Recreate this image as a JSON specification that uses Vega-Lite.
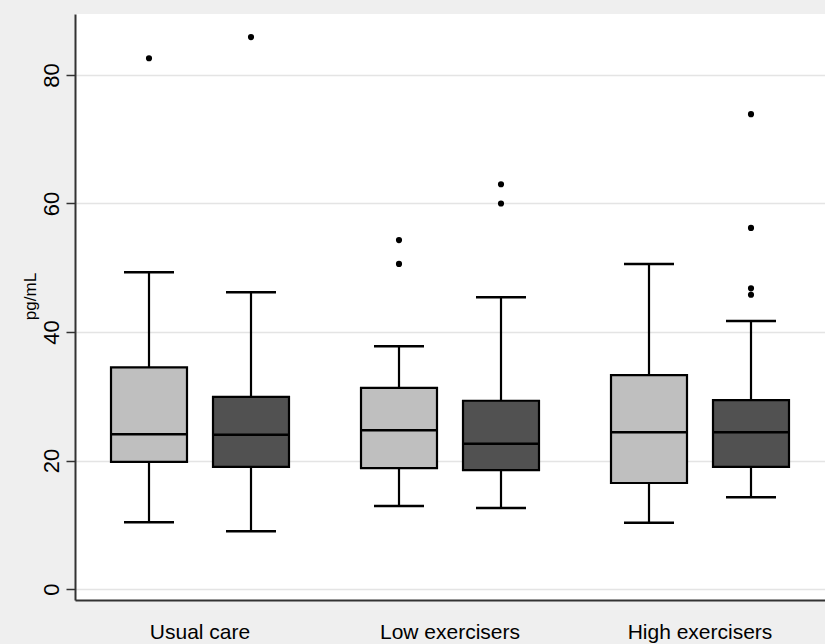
{
  "$schema": "https://vega.github.io/schema/vega-lite/v6.json",
  "width": 750,
  "height": 586,
  "autosize": {"type": "none"},
  "padding": {"left": 75, "top": 14, "right": 0, "bottom": 44},
  "background": "#efefef",
  "config": {
    "view": {"fill": "white", "stroke": null},
    "font": "Liberation Sans"
  },
  "datasets": {
    "boxes": [
      {"group": "Usual care", "time": "Baseline", "lower": 10.4, "q1": 19.8, "median": 24.1, "q3": 34.5, "upper": 49.3},
      {"group": "Usual care", "time": "Follow-up", "lower": 9.0, "q1": 19.0, "median": 24.0, "q3": 29.9, "upper": 46.2},
      {"group": "Low exercisers", "time": "Baseline", "lower": 12.9, "q1": 18.8, "median": 24.7, "q3": 31.3, "upper": 37.8},
      {"group": "Low exercisers", "time": "Follow-up", "lower": 12.6, "q1": 18.5, "median": 22.6, "q3": 29.3, "upper": 45.4},
      {"group": "High exercisers", "time": "Baseline", "lower": 10.3, "q1": 16.5, "median": 24.4, "q3": 33.3, "upper": 50.6},
      {"group": "High exercisers", "time": "Follow-up", "lower": 14.3, "q1": 19.0, "median": 24.4, "q3": 29.4, "upper": 41.7}
    ],
    "outliers": [
      {"group": "Usual care", "time": "Baseline", "value": 82.6},
      {"group": "Usual care", "time": "Follow-up", "value": 85.9},
      {"group": "Low exercisers", "time": "Baseline", "value": 54.3},
      {"group": "Low exercisers", "time": "Baseline", "value": 50.6},
      {"group": "Low exercisers", "time": "Follow-up", "value": 63.0},
      {"group": "Low exercisers", "time": "Follow-up", "value": 60.0},
      {"group": "High exercisers", "time": "Follow-up", "value": 73.9},
      {"group": "High exercisers", "time": "Follow-up", "value": 56.2},
      {"group": "High exercisers", "time": "Follow-up", "value": 46.8},
      {"group": "High exercisers", "time": "Follow-up", "value": 45.8}
    ]
  },
  "encoding": {
    "x": {
      "field": "group",
      "type": "nominal",
      "sort": ["Usual care", "Low exercisers", "High exercisers"],
      "scale": {"paddingInner": 0, "paddingOuter": 0},
      "axis": {
        "title": null,
        "labelAngle": 0,
        "labelFontSize": 21,
        "labelColor": "#000000",
        "labelBaseline": "alphabetic",
        "labelPadding": 38,
        "ticks": false,
        "domainColor": "#333333",
        "domainWidth": 2,
        "grid": false
      }
    },
    "xOffset": {
      "field": "time",
      "type": "nominal",
      "sort": ["Baseline", "Follow-up"],
      "scale": {"paddingInner": 0.255, "paddingOuter": 0.353}
    }
  },
  "layer": [
    {
      "data": {"name": "boxes"},
      "mark": {"type": "rule", "color": "black", "strokeWidth": 2.2},
      "encoding": {
        "y": {
          "field": "lower",
          "type": "quantitative",
          "scale": {"domain": [-1.71, 89.49], "nice": false, "zero": false},
          "axis": {
            "title": "pg/mL",
            "titleFontSize": 17,
            "titleFontWeight": "normal",
            "titleColor": "#000000",
            "titlePadding": 1,
            "titleY": 282,
            "values": [0, 20, 40, 60, 80],
            "labelAngle": -90,
            "labelAlign": "center",
            "labelBaseline": "alphabetic",
            "labelFontSize": 22,
            "labelColor": "#000000",
            "labelPadding": 8,
            "tickSize": 9,
            "tickColor": "#333333",
            "tickWidth": 1.5,
            "domainColor": "#333333",
            "domainWidth": 2,
            "grid": true,
            "gridColor": "#e4e4e4",
            "gridWidth": 1.5
          }
        },
        "y2": {"field": "upper"}
      }
    },
    {
      "data": {"name": "boxes"},
      "mark": {"type": "tick", "color": "black", "size": 50, "thickness": 2.5, "opacity": 1},
      "encoding": {"y": {"field": "lower", "type": "quantitative"}}
    },
    {
      "data": {"name": "boxes"},
      "mark": {"type": "tick", "color": "black", "size": 50, "thickness": 2.5, "opacity": 1},
      "encoding": {"y": {"field": "upper", "type": "quantitative"}}
    },
    {
      "data": {"name": "boxes"},
      "mark": {"type": "bar", "stroke": "black", "strokeWidth": 2.2, "opacity": 1},
      "encoding": {
        "y": {"field": "q1", "type": "quantitative"},
        "y2": {"field": "q3"},
        "fill": {
          "field": "time",
          "type": "nominal",
          "scale": {"domain": ["Baseline", "Follow-up"], "range": ["#bfbfbf", "#515151"]},
          "legend": null
        }
      }
    },
    {
      "data": {"name": "boxes"},
      "mark": {"type": "tick", "color": "black", "size": 76, "thickness": 2.5, "opacity": 1},
      "encoding": {"y": {"field": "median", "type": "quantitative"}}
    },
    {
      "data": {"name": "outliers"},
      "mark": {"type": "point", "filled": true, "color": "black", "size": 38, "opacity": 1},
      "encoding": {"y": {"field": "value", "type": "quantitative"}}
    }
  ]
}
